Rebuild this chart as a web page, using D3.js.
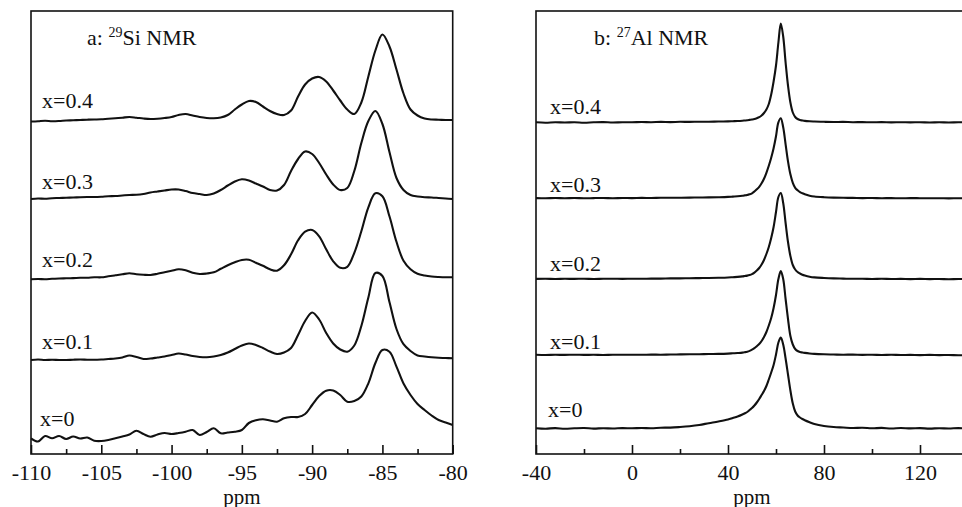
<!DOCTYPE html>
<html><head><meta charset="utf-8">
<script src="https://cdn.jsdelivr.net/npm/d3@7"></script>
<style>html,body{margin:0;padding:0;background:#fff;} svg{display:block;}</style>
</head><body>
<svg id="chart" width="962" height="507"></svg>
<script>
// ---------------- DATA ----------------
const samples = ["x=0.4", "x=0.3", "x=0.2", "x=0.1", "x=0"];

// 29Si NMR (panel a): chemical shift grid (ppm) and intensities (a.u.) above each trace baseline
const siPpm = [-110,-109.5,-109,-108.5,-108,-107.5,-107,-106.5,-106,-105.5,-105,
  -104.5,-104,-103.5,-103,-102.5,-102,-101.5,-101,-100.5,-100,
  -99.5,-99,-98.5,-98,-97.5,-97,-96.5,-96,-95.5,-95,
  -94.5,-94,-93.5,-93,-92.5,-92,-91.5,-91,-90.5,-90,
  -89.5,-89,-88.5,-88,-87.5,-87,-86.5,-86,-85.5,-85,
  -84.5,-84,-83.5,-83,-82.5,-82,-81.5,-81,-80.5,-80];
const siX04 = [0,0.3,0.8,0.3,0.5,1,1.2,1.5,1.8,2,2.2,
  2.8,3.2,3.8,4.5,3.8,3,2.5,2.8,3.5,4.5,
  6.5,7.5,6,4.5,3.5,3.2,4,6.5,12,17,
  20.5,19.5,15,10.5,7.5,6.5,11,25,37,43,
  44.5,40,31,21,12,7.5,19,45,71,87,
  75,52,28,12,6,3,2,1.8,1.5,1.5];
const siX03 = [0,0.5,0.2,0.8,1,1.3,1.5,1.8,2,2,2.3,
  2.8,3,3.5,4,4.2,5,6.5,7.5,8.5,9.5,
  9.5,8,6,5,4,5.5,9,13.5,17.5,19.7,
  18.5,15.5,12.5,9,8.5,14,28,40,47.5,45,
  36,24.5,14.5,9,11,28,56,78,88,75,
  47,21,9,4,2.5,1.8,1.5,1,0.5,0];
const siX02 = [0,0.3,0,0.5,0.8,1,1.2,1.5,1.5,2,2,
  3,4,5,6,5,4.5,4.3,5.5,7,8.5,
  10,9,6.5,5.3,5.8,7,10.5,14,17,19.3,
  19.5,16.5,13.5,10,8.6,14,25,39,47.6,49.3,
  43,30,18,11.5,12.5,26.5,48,72,86,83,
  63,37.5,18.5,10,5.5,3.8,2.8,2.3,2,2];
const siX01 = [0,0.5,0,0.3,0,0,0.3,0.5,0.3,0.2,0.5,
  1,1.5,2.5,4.5,3,1,1.5,2.5,3.5,5,
  6.5,5.5,4,3,2.7,3.5,5,7.5,11,14.5,
  16.5,15,12,8.5,6,7.5,12,25,39,47.5,
  40.5,27,16.5,10.5,8.3,14.5,34,62.5,87,84,
  58,31,15.8,9,4.5,3.5,2.7,2.2,2,1.7];
const siX00 = [5.7,2.5,8,5.7,8,5,7.5,5.5,6.5,3.3,3,
  4,5.7,7.5,9.5,13.3,10,7.3,9.5,11,10,
  11,12.3,14,9,12,15.7,10.7,11.5,12.3,14,
  21,23.7,24.7,23.5,22.3,25.7,27,27,30,39,
  48,53.3,53.5,49,42.3,43,47.5,60.7,81,94,
  92.3,77.4,60.5,49,40,34,28.5,24,21.5,19];
const siSeries = [siX04, siX03, siX02, siX01, siX00];
const siOffsets = [332.5, 255, 174.7, 94, 10];

// 27Al NMR (panel b)
const alPpm = [-40,-36,-32,-28,-24,-20,-16,-12,-8,-4,0,4,8,12,16,20,24,28,32,36,40,
  42,44,46,
  47,48,49,50,51,52,53,54,55,56,57,58,59,60,61,62,63,64,65,66,67,68,69,70,71,72,
  74,76,
  80,84,88,92,96,100,104,108,112,116,120,124,128,132,136,140];
const alX04 = [0.2,-0.2,0.3,0,0.3,-0.2,0.2,0.4,0,0.3,0.2,0.5,0.3,0.6,0.4,0.7,0.6,0.8,0.7,1,1.1,
  1.3,1.5,1.8,
  2,2.2,2.6,3,3.5,4.3,5.3,7,9.5,13,18.5,28,41,57,80,99,86,60,37,20,10,5.5,3.5,2.5,2,1.6,
  1.2,1,
  0.7,0.5,0.6,0.3,0.4,0.2,0.4,0.1,0.3,0.1,0.3,0,0.2,0,0.2,0.1];
const alX03 = [0.2,0,0.3,0.1,0.3,0,0.2,0.3,0.1,0.3,0.2,0.4,0.3,0.5,0.5,0.6,0.7,0.8,0.9,1.1,1.4,
  1.7,2,2.5,
  2.9,3.3,4,5,6.8,9,11.5,15,19.5,25.5,32.5,40.5,50,62,76,80,71,54,37,24,15.5,10.5,8,6.2,5,4,
  2.6,1.8,
  1.1,0.7,0.5,0.4,0.2,0.3,0.1,0.2,0,0.2,0.1,0,0.1,-0.1,0.1,0];
const alX02 = [0.1,0.3,0,0.2,0.1,0.3,0,0.2,0.3,0.1,0.3,0.2,0.4,0.4,0.6,0.6,0.8,0.9,1,1.2,1.5,
  1.8,2.1,2.6,
  3,3.4,4,4.9,6.4,8.5,11,14.5,19,25,32,41,52,67,82,86,76,56,37,23,14,9.5,7,5.5,4.3,3.5,
  2.3,1.6,
  1,0.6,0.4,0.2,0.3,0,0.2,0,0.1,-0.1,0.1,-0.1,0,-0.2,0,-0.2];
const alX01 = [0.2,0,0.2,0.1,0.3,0.1,0.2,0,0.3,0.2,0.3,0.2,0.4,0.3,0.5,0.6,0.7,0.8,1,1.1,1.4,
  1.7,2,2.4,
  2.8,3.3,4.1,5.3,6.8,8.8,11,14,18,23,29.5,37,47,60,76,84,76,56,36,19,10.5,6,4,3,2.5,2.1,
  1.5,1.1,
  0.7,0.5,0.3,0.4,0.1,0.3,0,0.2,0,0.1,-0.1,0.1,-0.1,0,-0.2,-0.1];
const alX00 = [0.3,-0.2,0.4,-0.3,0.2,0.5,-0.1,0.3,0,0.4,0.2,0.5,0.3,0.8,0.9,1.5,2.3,3.5,5.3,7,9,
  10.5,12,14,
  15.2,16.5,18.5,20.5,23,26,29.5,33.5,37.5,42.5,49,56,63.5,74,86,91,84,70,54,38,25,17,13,11,9.5,8.3,
  6.3,4.5,
  2.5,1.5,1,0.5,0.8,0.2,0.6,0,0.5,0.1,0.4,-0.1,0.3,0,0.4,0];
const alSeries = [alX04, alX03, alX02, alX01, alX00];
const alOffsets = [331.5, 255.7, 175, 99, 25.5];

const siTicks = [-110,-105,-100,-95,-90,-85,-80];
const siMinorTicks = [-107.5,-102.5,-97.5,-92.5,-87.5,-82.5];
const alTicks = [-40,0,40,80,120];
const alMinorTicks = [-20,20,60,100,140];
const axisTitle = "ppm";

// ---------------- LAYOUT / STYLE ----------------
const FONT = "'Liberation Serif','Times New Roman',Times,serif";
const INK = "#111";
const plotTop = 11, plotBottom = 454;
const panels = [
  {key:"a", ppm: siPpm, series: siSeries, offsets: siOffsets, domain:[-110,-80], range:[31,452.7],
   ticks: siTicks, minor: siMinorTicks, titleX: 87, pre:"a: ", sup:"29", post:"Si NMR",
   labelX:[42,42,42,42,40], labelLift:[13.2,9.7,12.6,11,18.3]},
  {key:"b", ppm: alPpm, series: alSeries, offsets: alOffsets, domain:[-40,140], range:[536,968],
   ticks: alTicks, minor: alMinorTicks, titleX: 594, pre:"b: ", sup:"27", post:"Al NMR",
   labelX:[550,550,550,550,548], labelLift:[8.5,6.6,8.3,6,11.8]}
];

const svg = d3.select("#chart");
const y = d3.scaleLinear().domain([0, 443]).range([plotBottom, plotTop]);

panels.forEach(p => {
  const x = d3.scaleLinear().domain(p.domain).range(p.range);
  const g = svg.append("g");

  // traces
  const line = d3.line()
    .x((d, i) => x(p.ppm[i]))
    .y(d => d)
    .curve(d3.curveCatmullRom.alpha(0.5));
  p.series.forEach((vals, k) => {
    const pts = vals.map(v => y(v + p.offsets[k]));
    g.append("path")
      .attr("d", line(pts))
      .attr("fill", "none")
      .attr("stroke", INK)
      .attr("stroke-width", 2.1)
      .attr("stroke-linejoin", "round");
    g.append("text")
      .attr("x", p.labelX[k])
      .attr("y", y(p.offsets[k] + p.labelLift[k]))
      .attr("font-family", FONT).attr("font-size", 22).attr("fill", INK)
      .text(samples[k]);
  });

  // frame
  g.append("rect")
    .attr("x", p.range[0]).attr("y", plotTop)
    .attr("width", p.range[1] - p.range[0]).attr("height", plotBottom - plotTop)
    .attr("fill", "none").attr("stroke", INK).attr("stroke-width", 1.6);

  // major axis
  const ax = g.append("g").attr("transform", `translate(0,${plotBottom})`)
    .call(d3.axisBottom(x).tickValues(p.ticks).tickSizeInner(-9).tickSizeOuter(0)
      .tickPadding(10).tickFormat(d => String(d)));
  ax.select(".domain").remove();
  ax.selectAll("line").attr("stroke", INK).attr("stroke-width", 1.6);
  ax.selectAll("text").attr("font-family", FONT).attr("font-size", 22).attr("fill", INK);

  // minor ticks
  const mx = g.append("g").attr("transform", `translate(0,${plotBottom})`)
    .call(d3.axisBottom(x).tickValues(p.minor).tickSizeInner(-5).tickSizeOuter(0).tickFormat(""));
  mx.select(".domain").remove();
  mx.selectAll("line").attr("stroke", INK).attr("stroke-width", 1.6);

  // axis title
  g.append("text")
    .attr("x", (p.key === "a") ? x(-95) : x(50)).attr("y", 503.5)
    .attr("text-anchor", "middle")
    .attr("font-family", FONT).attr("font-size", 21).attr("fill", INK)
    .text(axisTitle);

  // panel title
  const t = g.append("text").attr("x", p.titleX).attr("y", 45)
    .attr("font-family", FONT).attr("font-size", 22).attr("fill", INK);
  t.append("tspan").text(p.pre);
  t.append("tspan").attr("font-size", 14).attr("dy", -8).text(p.sup);
  t.append("tspan").attr("dy", 8).text(p.post);
});
</script>
</body></html>
